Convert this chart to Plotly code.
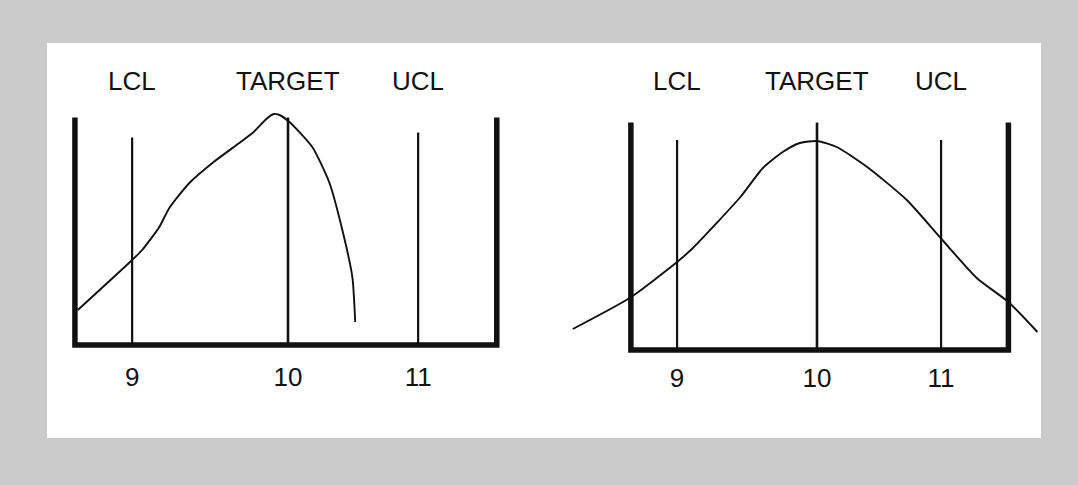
import plotly.graph_objects as go

W, H = 1078, 485

# ---------------- data ----------------
labels = ["LCL", "TARGET", "UCL"]
tick_text = ["9", "10", "11"]

# Panel 1: skewed distribution
p1_curve_x = [8.53, 8.91, 8.98, 9.10, 9.17, 9.31, 9.48, 9.64, 9.76, 9.85, 9.90,
              9.94, 10.01, 10.17, 10.29, 10.38, 10.45, 10.47]
p1_curve_y = [0.14, 0.34, 0.38, 0.472, 0.548, 0.648, 0.732, 0.80, 0.852, 0.905, 0.924,
              0.92, 0.892, 0.792, 0.648, 0.46, 0.272, 0.092]
p1_limit_x = [8.91, 10.0, 10.91]      # LCL, TARGET, UCL
p1_limit_top = [0.83, 0.91, 0.85]
p1_wall_x = [8.51, 11.46]
p1_wall_top = [0.91, 0.91]

# Panel 2: symmetric (normal-like) distribution
p2_curve_x = [8.15, 8.58, 8.94, 9.06, 9.24, 9.42, 9.59, 9.74, 9.87, 10.0,
              10.15, 10.38, 10.68, 10.95, 11.21, 11.45, 11.67]
p2_curve_y = [0.084, 0.208, 0.352, 0.408, 0.508, 0.612, 0.728, 0.792, 0.828, 0.836,
              0.812, 0.732, 0.60, 0.44, 0.288, 0.192, 0.072]
p2_limit_x = [8.94, 10.0, 10.94]
p2_limit_top = [0.84, 0.91, 0.84]
p2_wall_x = [8.59, 11.45]
p2_wall_top = [0.91, 0.91]

# ---------------- layout helpers ----------------
PXU_Y = 250.0        # pixels per y unit
Y_RANGE = [-0.03, 1.2]


def xdom(center_px, px_per_unit, rng):
    x0 = center_px + (rng[0] - 10) * px_per_unit
    x1 = center_px + (rng[1] - 10) * px_per_unit
    return [x0 / W, x1 / W]


def ydom(base_px):
    bottom = base_px - Y_RANGE[0] * PXU_Y
    top = base_px - Y_RANGE[1] * PXU_Y
    return [1 - bottom / H, 1 - top / H]


X1_RANGE = [8.4, 11.6]
X2_RANGE = [8.0, 11.9]

INK = "#111111"
FONT = "Liberation Sans, Arial, Helvetica, sans-serif"
FS = 26

fig = go.Figure()


def add_panel(xa, ya, cx, cy, lx, ltop, wx, wtop):
    # U-shaped frame
    fig.add_trace(go.Scatter(
        x=[wx[0], wx[0], wx[1], wx[1]], y=[wtop[0], 0, 0, wtop[1]],
        mode="lines", line=dict(color=INK, width=5.5), xaxis=xa, yaxis=ya,
        hoverinfo="skip", showlegend=False))
    # limit lines
    for x, t, w in zip(lx, ltop, [2.2, 2.6, 2.2]):
        fig.add_trace(go.Scatter(
            x=[x, x], y=[0, t], mode="lines", line=dict(color=INK, width=w),
            xaxis=xa, yaxis=ya, hoverinfo="skip", showlegend=False))
    # distribution curve
    fig.add_trace(go.Scatter(
        x=cx, y=cy, mode="lines", line=dict(color=INK, width=1.9, shape="spline", smoothing=0.6),
        xaxis=xa, yaxis=ya, hoverinfo="skip", showlegend=False))


add_panel("x", "y", p1_curve_x, p1_curve_y, p1_limit_x, p1_limit_top, p1_wall_x, p1_wall_top)
add_panel("x2", "y2", p2_curve_x, p2_curve_y, p2_limit_x, p2_limit_top, p2_wall_x, p2_wall_top)

axis_common = dict(showgrid=False, zeroline=False, showline=False, ticks="",
                   tickfont=dict(family=FONT, size=FS, color=INK), fixedrange=True)

fig.update_layout(
    width=W, height=H,
    margin=dict(l=0, r=0, t=0, b=0),
    paper_bgcolor="#cbcbcb", plot_bgcolor="rgba(0,0,0,0)",
    xaxis=dict(domain=xdom(288, 143, X1_RANGE), range=X1_RANGE, anchor="y",
               tickvals=p1_limit_x, ticktext=tick_text, ticklabelstandoff=6, **axis_common),
    yaxis=dict(domain=ydom(345), range=Y_RANGE, anchor="x", visible=False, fixedrange=True),
    xaxis2=dict(domain=xdom(817, 132, X2_RANGE), range=X2_RANGE, anchor="y2",
                tickvals=p2_limit_x, ticktext=tick_text, ticklabelstandoff=2, **axis_common),
    yaxis2=dict(domain=ydom(350), range=Y_RANGE, anchor="x2", visible=False, fixedrange=True),
    shapes=[dict(type="rect", xref="paper", yref="paper",
                 x0=47 / W, x1=1041 / W, y0=1 - 438 / H, y1=1 - 43 / H,
                 fillcolor="white", line=dict(width=0), layer="below")],
    showlegend=False,
    hovermode=False,
)

for xa, lx in (("x", p1_limit_x), ("x2", p2_limit_x)):
    for lab, x in zip(labels, lx):
        fig.add_annotation(x=x, y=1 - 81 / H, xref=xa, yref="paper", text=lab,
                           showarrow=False, font=dict(family=FONT, size=FS, color=INK),
                           xanchor="center", yanchor="middle")

fig.write_html("out.html", config={"displayModeBar": False},
               post_script="document.body.style.margin='0';")
